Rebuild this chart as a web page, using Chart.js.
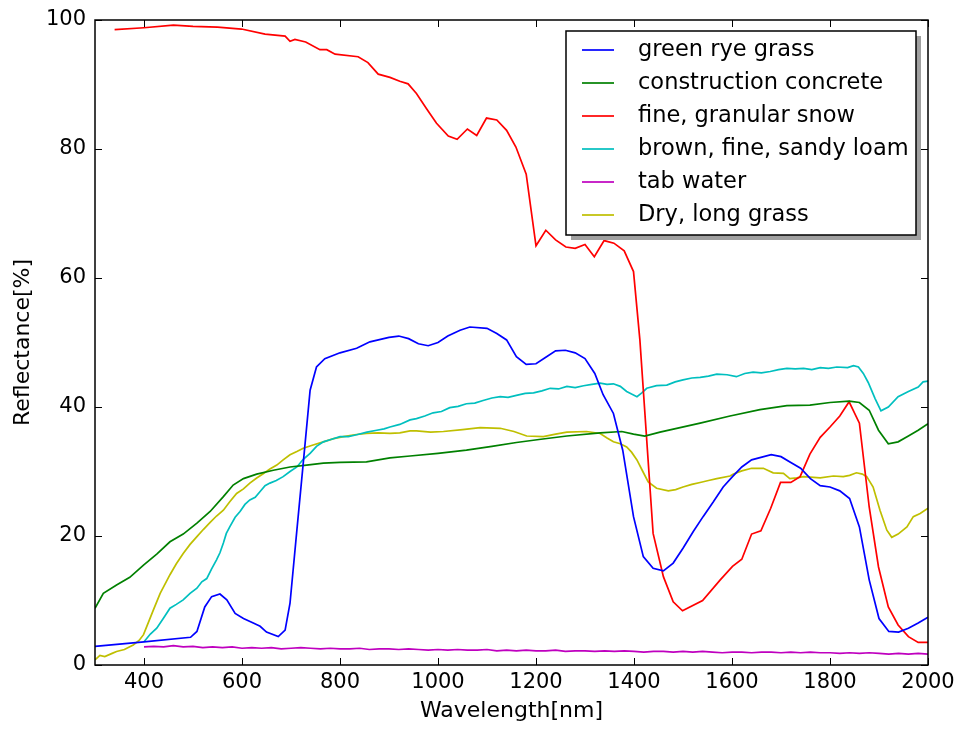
<!DOCTYPE html>
<html>
<head>
<meta charset="utf-8">
<script src="https://cdn.jsdelivr.net/npm/chart.js@4/dist/chart.umd.min.js"></script>
<style>
  body { margin: 0; background: #fff; }
  canvas { display: block; }
</style>
</head>
<body>
<canvas id="grafico" width="958" height="729"></canvas>
<script>
// [wavelength nm, reflectance %]
const ryeGrass = [[300,2.9],[400,3.6],[495,4.3],[508,5.2],[524,9.0],[538,10.6],[555,11.0],[569,10.1],[586,8.0],[603,7.2],[623,6.5],[637,6.0],[650,5.1],[674,4.4],[688,5.4],[698,9.6],[712,20.9],[725,31.3],[739,42.6],[752,46.2],[769,47.5],[800,48.4],[834,49.1],[861,50.1],[900,50.8],[920,51.0],[940,50.6],[960,49.8],[980,49.5],[1000,50.0],[1020,51.0],[1045,51.9],[1065,52.4],[1100,52.2],[1120,51.4],[1140,50.4],[1160,47.8],[1180,46.6],[1200,46.7],[1220,47.7],[1240,48.7],[1260,48.8],[1280,48.4],[1300,47.5],[1320,45.2],[1337,41.9],[1358,39.0],[1377,33.3],[1399,23.0],[1419,16.8],[1439,15.0],[1460,14.6],[1480,15.8],[1500,18.1],[1521,20.7],[1541,23.0],[1562,25.3],[1582,27.6],[1601,29.2],[1620,30.7],[1640,31.8],[1680,32.6],[1700,32.3],[1720,31.4],[1740,30.5],[1760,28.9],[1780,27.8],[1800,27.6],[1820,27.0],[1840,25.8],[1860,21.4],[1880,13.2],[1900,7.2],[1920,5.2],[1940,5.1],[1960,5.7],[1980,6.5],[2000,7.4]];

const concrete = [[300,8.8],[317,11.1],[344,12.4],[371,13.6],[399,15.5],[426,17.2],[453,19.1],[480,20.3],[508,22.0],[535,23.8],[562,26.1],[582,27.9],[603,28.9],[630,29.6],[664,30.2],[698,30.7],[732,31.0],[766,31.3],[800,31.4],[854,31.5],[902,32.1],[943,32.4],[1000,32.8],[1058,33.3],[1110,33.9],[1160,34.5],[1210,35.0],[1263,35.5],[1331,36.0],[1375,36.2],[1399,35.8],[1422,35.5],[1453,36.1],[1535,37.5],[1596,38.6],[1657,39.6],[1712,40.2],[1759,40.3],[1800,40.7],[1839,40.9],[1860,40.7],[1880,39.5],[1899,36.4],[1919,34.3],[1939,34.6],[1960,35.5],[1980,36.4],[2000,37.4]];

const snow = [[340,98.5],[400,98.8],[460,99.2],[500,99.0],[550,98.9],[599,98.6],[647,97.8],[688,97.5],[698,96.7],[708,97.0],[730,96.6],[759,95.4],[773,95.4],[790,94.7],[837,94.3],[857,93.4],[878,91.6],[902,91.1],[922,90.5],[939,90.1],[956,88.6],[977,86.2],[997,84.0],[1021,82.0],[1039,81.5],[1060,83.1],[1079,82.1],[1099,84.8],[1120,84.5],[1140,82.9],[1159,80.3],[1180,76.1],[1200,65.0],[1220,67.4],[1240,65.9],[1261,64.8],[1280,64.6],[1300,65.2],[1319,63.3],[1339,65.8],[1359,65.4],[1380,64.2],[1399,61.0],[1412,50.4],[1439,20.4],[1460,13.7],[1480,9.8],[1499,8.4],[1540,10.0],[1576,13.2],[1601,15.3],[1620,16.4],[1640,20.3],[1659,20.8],[1679,24.3],[1699,28.3],[1720,28.3],[1739,29.2],[1759,32.7],[1780,35.3],[1800,36.9],[1820,38.6],[1839,40.8],[1860,37.5],[1880,24.5],[1899,15.2],[1919,9.0],[1939,6.2],[1960,4.4],[1980,3.5],[2000,3.5]];

const sandyLoam = [[400,3.6],[413,4.8],[426,5.7],[440,7.3],[453,8.8],[466,9.4],[480,10.1],[494,11.1],[508,11.9],[518,12.9],[528,13.4],[538,14.9],[548,16.3],[555,17.4],[562,18.9],[568,20.4],[575,21.4],[586,22.9],[596,23.8],[606,24.9],[616,25.6],[627,26.0],[637,26.9],[647,27.8],[657,28.2],[670,28.6],[684,29.2],[698,30.0],[712,30.7],[725,31.9],[739,32.8],[752,33.9],[766,34.6],[783,35.0],[800,35.4],[817,35.4],[834,35.7],[855,36.1],[875,36.4],[890,36.6],[902,36.9],[922,37.3],[943,38.0],[956,38.2],[973,38.6],[990,39.1],[1007,39.3],[1024,39.9],[1041,40.1],[1058,40.5],[1075,40.6],[1092,41.0],[1110,41.4],[1127,41.6],[1143,41.5],[1160,41.8],[1178,42.1],[1195,42.2],[1212,42.5],[1229,42.9],[1246,42.8],[1263,43.2],[1280,43.0],[1297,43.3],[1314,43.5],[1331,43.7],[1345,43.5],[1358,43.6],[1372,43.2],[1385,42.4],[1395,42.0],[1406,41.6],[1416,42.2],[1426,42.9],[1446,43.3],[1467,43.4],[1484,43.9],[1500,44.2],[1518,44.5],[1535,44.6],[1552,44.8],[1569,45.1],[1590,45.0],[1609,44.7],[1626,45.2],[1643,45.4],[1660,45.3],[1678,45.5],[1695,45.8],[1712,46.0],[1729,45.9],[1746,46.0],[1763,45.8],[1780,46.1],[1797,46.0],[1814,46.2],[1836,46.1],[1848,46.4],[1858,46.2],[1868,45.2],[1878,43.8],[1892,41.3],[1904,39.4],[1919,40.0],[1939,41.6],[1960,42.4],[1980,43.1],[1990,43.9],[2000,44.0]];

const tabWater = [[400,2.8],[420,2.9],[440,2.8],[460,3.0],[480,2.8],[500,2.9],[520,2.7],[540,2.8],[560,2.7],[580,2.8],[600,2.6],[620,2.7],[640,2.6],[660,2.7],[680,2.5],[700,2.6],[720,2.7],[740,2.6],[760,2.5],[780,2.6],[800,2.5],[820,2.5],[840,2.6],[860,2.4],[880,2.5],[900,2.5],[920,2.4],[940,2.5],[960,2.4],[980,2.3],[1000,2.4],[1020,2.3],[1040,2.4],[1060,2.3],[1080,2.3],[1100,2.4],[1120,2.2],[1140,2.3],[1160,2.2],[1180,2.3],[1200,2.2],[1220,2.2],[1240,2.3],[1260,2.1],[1280,2.2],[1300,2.2],[1320,2.1],[1340,2.2],[1360,2.1],[1380,2.2],[1400,2.1],[1420,2.0],[1440,2.1],[1460,2.1],[1480,2.0],[1500,2.1],[1520,2.0],[1540,2.1],[1560,2.0],[1580,1.9],[1600,2.0],[1620,2.0],[1640,1.9],[1660,2.0],[1680,2.0],[1700,1.9],[1720,2.0],[1740,1.9],[1760,2.0],[1780,1.9],[1800,1.9],[1820,1.8],[1840,1.9],[1860,1.8],[1880,1.9],[1900,1.8],[1920,1.7],[1940,1.8],[1960,1.7],[1980,1.8],[2000,1.7]];

const dryGrass = [[300,0.8],[310,1.5],[320,1.3],[335,1.8],[344,2.1],[360,2.4],[378,3.1],[390,3.8],[399,4.7],[409,6.6],[419,8.5],[433,11.1],[453,14.0],[466,15.7],[480,17.3],[494,18.7],[508,19.9],[521,21.0],[535,22.1],[548,23.1],[562,24.0],[575,25.3],[589,26.6],[603,27.3],[616,28.2],[630,29.0],[644,29.7],[657,30.4],[671,31.0],[684,31.8],[698,32.6],[712,33.1],[725,33.6],[745,34.1],[766,34.6],[787,35.1],[807,35.4],[830,35.7],[854,35.9],[878,36.0],[902,35.9],[922,36.0],[943,36.3],[956,36.3],[985,36.1],[1011,36.2],[1050,36.5],[1086,36.8],[1127,36.7],[1155,36.2],[1181,35.5],[1215,35.4],[1240,35.8],[1263,36.1],[1303,36.2],[1331,35.9],[1345,35.2],[1358,34.6],[1372,34.3],[1385,33.8],[1395,33.0],[1406,31.8],[1418,30.0],[1429,28.4],[1446,27.4],[1470,27.0],[1485,27.2],[1500,27.6],[1518,28.0],[1535,28.3],[1552,28.6],[1569,28.9],[1596,29.3],[1603,29.6],[1620,30.1],[1640,30.5],[1664,30.5],[1684,29.8],[1705,29.7],[1718,28.9],[1732,29.0],[1746,29.2],[1780,29.0],[1807,29.3],[1827,29.2],[1840,29.4],[1854,29.8],[1866,29.6],[1875,29.2],[1888,27.6],[1902,24.0],[1916,20.9],[1926,19.8],[1939,20.3],[1957,21.4],[1970,23.0],[1984,23.5],[2000,24.3]];

const seriesNames = ["green rye grass", "construction concrete", "fine, granular snow",
                     "brown, fine, sandy loam", "tab water", "Dry, long grass"];
const seriesColors = ["#0000ff", "#008000", "#ff0000", "#00bfbf", "#bf00bf", "#bfbf00"];
const xTickValues = [400, 600, 800, 1000, 1200, 1400, 1600, 1800, 2000];
const yTickValues = [0, 20, 40, 60, 80, 100];

const FONT = "DejaVu Sans";
const allSeries = [ryeGrass, concrete, snow, sandyLoam, tabWater, dryGrass];

// moldura + ticks para dentro (estilo matplotlib)
const frameTicks = {
  id: "frameTicks",
  afterDatasetsDraw(chart) {
    const { ctx, chartArea: a, scales } = chart;
    const len = 7;
    ctx.save();
    ctx.strokeStyle = "#000";
    ctx.lineWidth = 1;
    ctx.beginPath();
    xTickValues.forEach(v => {
      const px = Math.round(scales.x.getPixelForValue(v)) + 0.5;
      ctx.moveTo(px, a.bottom); ctx.lineTo(px, a.bottom - len);
      ctx.moveTo(px, a.top); ctx.lineTo(px, a.top + len);
    });
    yTickValues.forEach(v => {
      const py = Math.round(scales.y.getPixelForValue(v)) + 0.5;
      ctx.moveTo(a.left, py); ctx.lineTo(a.left + len, py);
      ctx.moveTo(a.right, py); ctx.lineTo(a.right - len, py);
    });
    ctx.stroke();
    ctx.lineWidth = 1.5;
    ctx.strokeRect(a.left, a.top, a.right - a.left, a.bottom - a.top);
    ctx.restore();
  }
};

// legenda com sombra
const boxLegend = {
  id: "boxLegend",
  afterDraw(chart) {
    const { ctx } = chart;
    const x = 566, y = 31, w = 350, h = 204;
    ctx.save();
    ctx.fillStyle = "#a0a0a0";
    ctx.fillRect(x + 5, y + 5, w, h);
    ctx.fillStyle = "#fff";
    ctx.fillRect(x, y, w, h);
    ctx.strokeStyle = "#000";
    ctx.lineWidth = 1.5;
    ctx.strokeRect(x, y, w, h);
    ctx.font = `22.5px "${FONT}"`;
    ctx.textBaseline = "middle";
    chart.data.datasets.forEach((ds, i) => {
      const ly = y + 19 + i * 33;
      ctx.strokeStyle = ds.borderColor;
      ctx.lineWidth = 1.7;
      ctx.beginPath();
      ctx.moveTo(582, ly); ctx.lineTo(614, ly);
      ctx.stroke();
      ctx.fillStyle = "#000";
      ctx.fillText(ds.label, 638, ly);
    });
    ctx.restore();
  }
};

new Chart(document.getElementById("grafico"), {
  type: "line",
  data: {
    datasets: allSeries.map((s, i) => ({
      label: seriesNames[i],
      data: s.map(p => ({ x: p[0], y: p[1] })),
      borderColor: seriesColors[i],
      borderWidth: 1.7,
      pointRadius: 0,
      tension: 0,
      fill: false
    }))
  },
  options: {
    responsive: false,
    animation: false,
    layout: { padding: { top: 20, right: 30, left: 0, bottom: 0 } },
    plugins: { legend: { display: false }, tooltip: { enabled: false } },
    scales: {
      x: {
        type: "linear",
        min: 300, max: 2000,
        afterBuildTicks: s => { s.ticks = xTickValues.map(v => ({ value: v })); },
        afterFit: s => { s.height = 64; s.paddingLeft = 0; s.paddingRight = 0; },
        grid: { display: false, drawTicks: false },
        border: { display: false },
        ticks: { color: "#000", padding: 5, maxRotation: 0, callback: v => String(v),
                 font: { family: FONT, size: 21 } },
        title: { display: true, text: "Wavelength[nm]", color: "#000",
                 padding: { top: 0, bottom: 5 }, font: { family: FONT, size: 22 } }
      },
      y: {
        min: 0, max: 100,
        afterBuildTicks: s => { s.ticks = yTickValues.map(v => ({ value: v })); },
        afterFit: s => { s.width = 95; s.paddingTop = 0; s.paddingBottom = 0; },
        grid: { display: false, drawTicks: false },
        border: { display: false },
        ticks: { color: "#000", padding: 9, callback: v => String(v),
                 font: { family: FONT, size: 21 } },
        title: { display: true, text: "Reflectance[%]", color: "#000",
                 padding: { top: 10, bottom: 0 }, font: { family: FONT, size: 22 } }
      }
    }
  },
  plugins: [frameTicks, boxLegend]
});
</script>
</body>
</html>
